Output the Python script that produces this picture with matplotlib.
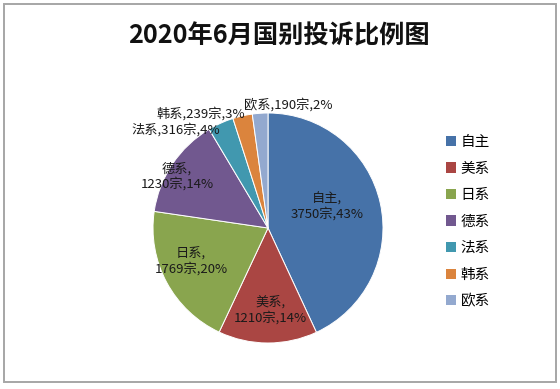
import matplotlib
matplotlib.use("Agg")
import matplotlib.pyplot as plt
from matplotlib.patches import Rectangle, Patch
import numpy as np

plt.rcParams['font.family'] = ['Noto Sans CJK SC', 'DejaVu Sans']

title = "2020年6月国别投诉比例图"
categories = ["自主", "美系", "日系", "德系", "法系", "韩系", "欧系"]
counts = [3750, 1210, 1769, 1230, 316, 239, 190]
colors = ["#4672A8", "#AA4643", "#89A54E", "#71588F", "#4198AF", "#DB843D", "#93A9CF"]

# label layout: (radius, angle in degrees), two-line inside or one-line outside
label_pos = [(0.545, 19.6), (0.72, -88.6), (0.73, -156.2), (0.91, 150.3),
             (1.17, 133.0), (1.15, 120.4), (1.09, 80.8)]
label_inside = [True, True, True, True, False, False, False]

W, H = 560, 389
fig = plt.figure(figsize=(W / 100, H / 100), dpi=100)
fig.patch.set_facecolor("white")

# outer border
fig.patches.append(Rectangle((4 / W, (H - 382) / H), 552 / W, 378 / H,
                             transform=fig.transFigure, fill=False,
                             edgecolor="#A6A6A6", linewidth=1.4))

cx, cy, r = 268, 228, 115
ax = fig.add_axes([(cx - r) / W, (H - cy - r) / H, 2 * r / W, 2 * r / H])
ax.axis("off")

wedges, _ = ax.pie(counts, colors=colors, startangle=90, counterclock=False,
                   radius=1.0, wedgeprops=dict(edgecolor="white", linewidth=0.7))
ax.set_xlim(-1, 1)
ax.set_ylim(-1, 1)

total = sum(counts)
for cat, c, (lr, la), inside in zip(categories, counts, label_pos, label_inside):
    pct = round(100 * c / total)
    if inside:
        txt = f"{cat},\n{c}宗,{pct}%"
    else:
        txt = f"{cat},{c}宗,{pct}%"
    x = lr * np.cos(np.radians(la))
    y = lr * np.sin(np.radians(la))
    ax.text(x, y, txt, ha="center", va="center", fontsize=9.5,
            color="#1a1a1a", linespacing=1.12, multialignment="center")

fig.text(279 / W, 1 - 36 / H, title, ha="center", va="center",
         fontsize=18.2, fontweight="bold", color="#111111")

handles = [Patch(facecolor=col, edgecolor="none") for col in colors]
fig.legend(handles, categories, loc="upper left",
           bbox_to_anchor=(446 / W, 1 - 135 / H), frameon=False,
           fontsize=10.5, handlelength=0.7, handleheight=0.7,
           handletextpad=0.3, labelspacing=0.86, borderpad=0,
           borderaxespad=0)

fig.savefig("out.png", dpi=100, facecolor="white")
